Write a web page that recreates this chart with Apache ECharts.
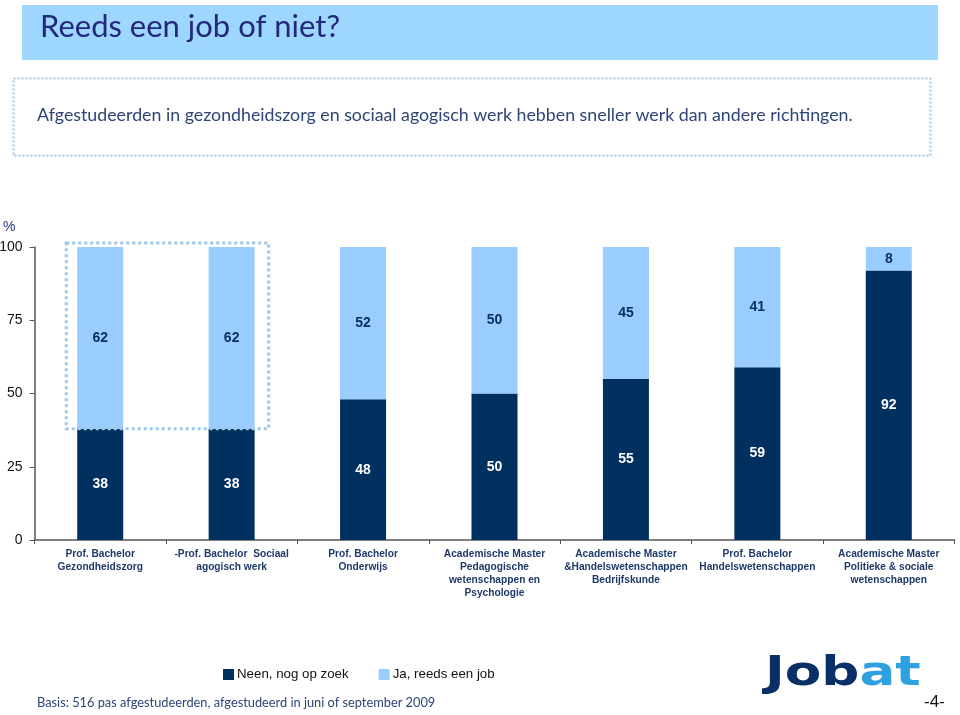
<!DOCTYPE html>
<html><head><meta charset="utf-8">
<script src="https://cdn.jsdelivr.net/npm/echarts@6/dist/echarts.min.js"></script>
<style>html,body{margin:0;padding:0;background:#fff}#c{width:960px;height:715px}</style>
</head><body><div id="c"></div>
<script>
const categories = [
  "Prof. Bachelor\nGezondheidszorg",
  "-Prof. Bachelor  Sociaal\nagogisch werk",
  "Prof. Bachelor\nOnderwijs",
  "Academische Master\nPedagogische\nwetenschappen en\nPsychologie",
  "Academische Master\n&Handelswetenschappen\nBedrijfskunde",
  "Prof. Bachelor\nHandelswetenschappen",
  "Academische Master\nPolitieke & sociale\nwetenschappen"
];
const neenValues = [38, 38, 48, 50, 55, 59, 92];
const jaValues = [62, 62, 52, 50, 45, 41, 8];
const yTicks = [0, 25, 50, 75, 100];
const seriesNames = ["Neen, nog op zoek", "Ja, reeds een job"];

const DARK = '#00305F', LIGHT = '#99CCFF';
const chart = echarts.init(document.getElementById('c'));
const labelFont = 'Liberation Sans, Arial, sans-serif';
chart.setOption({
  animation: false,
  grid: {left: 34.5, right: 5.5, top: 247, bottom: 175, containLabel: false, outerBoundsMode: 'none'},
  legend: {
    data: seriesNames, left: 218, top: 663, itemWidth: 11, itemHeight: 11, itemGap: 30,
    icon: 'rect',
    textStyle: {fontFamily: 'Liberation Sans, Arial', fontSize: 13.3, color: '#111', padding: [0,0,0,-2]}
  },
  xAxis: {
    type: 'category', data: categories,
    axisLine: {lineStyle: {color: '#555', width: 1.5}},
    axisTick: {show: true, alignWithLabel: false, length: 4, lineStyle: {color: '#555'}},
    axisLabel: {interval: 0, fontFamily: labelFont, fontSize: 10.2, fontWeight: 'bold', color: '#1F3A6A', lineHeight: 13, margin: 8}
  },
  yAxis: {
    type: 'value', min: 0, max: 100, interval: 25,
    splitLine: {show: false},
    axisLine: {show: true, lineStyle: {color: '#555', width: 1.5}},
    axisTick: {show: true, length: 5, lineStyle: {color: '#555'}},
    axisLabel: {fontFamily: labelFont, fontSize: 14, color: '#111', margin: 12,
      formatter: v => yTicks.includes(v) ? String(v) : ''}
  },
  series: [
    {name: seriesNames[0], type: 'bar', stack: 's', data: neenValues, barWidth: 46,
     itemStyle: {color: DARK},
     label: {show: true, position: 'inside', color: '#fff', fontFamily: labelFont, fontSize: 14, fontWeight: 'bold'}},
    {name: seriesNames[1], type: 'bar', stack: 's', data: jaValues, barWidth: 46,
     itemStyle: {color: LIGHT},
     label: {show: true, position: 'inside', color: '#0B2F66', fontFamily: labelFont, fontSize: 14, fontWeight: 'bold'}}
  ]
});

const p0 = chart.convertToPixel({seriesIndex: 0}, [0, 100]);
const p1 = chart.convertToPixel({seriesIndex: 0}, [1, neenValues[1]]);
chart.setOption({
  graphic: [
    {type: 'rect', shape: {x: 22, y: 5, width: 916, height: 55}, style: {fill: '#9DD6FF'}, silent: true},
    {type: 'text', left: 40, top: 11, style: {text: 'Reeds een job of niet?', fontFamily: 'Lato, Open Sans, sans-serif', fontSize: 31, fill: '#23287A'}},
    {type: 'rect', shape: {x: 13.5, y: 78.5, width: 917, height: 77}, style: {fill: 'none', stroke: '#9CC8EC', lineWidth: 2, lineDash: [2, 2]}},
    {type: 'text', left: 37, top: 106, style: {text: 'Afgestudeerden in gezondheidszorg en sociaal agogisch werk hebben sneller werk dan andere richtingen.', fontFamily: 'Lato, Open Sans, sans-serif', fontSize: 17.8, fill: '#2E4476'}},
    {type: 'text', left: 3, top: 220, style: {text: '%', fontFamily: labelFont, fontSize: 14, fill: '#2A3A8A'}},
    {type: 'rect', z: 20, shape: {x: p0[0] - 34, y: p0[1] - 4, width: (p1[0] + 37) - (p0[0] - 34), height: p1[1] - p0[1] + 4}, style: {fill: 'none', stroke: '#9CC8EC', lineWidth: 3, lineDash: [3, 3]}},
    {type: 'text', left: 37, top: 696, style: {text: 'Basis: 516 pas afgestudeerden, afgestudeerd in juni of september 2009', fontFamily: 'Lato, Open Sans, sans-serif', fontSize: 12.8, fill: '#2E4476'}},
    {type: 'text', x: 765, y: 655, scaleX: 1.33, style: {rich: {a: {fontFamily: 'DejaVu Sans', fontWeight: 'bold', fontSize: 40, fill: '#0A2E66'}, b: {fontFamily: 'DejaVu Sans', fontWeight: 'bold', fontSize: 40, fill: '#2FA0E0'}}, text: '{a|Job}{b|at}'}},
    {type: 'text', left: 924, top: 694, style: {text: '-4-', fontFamily: 'Liberation Sans, Arial', fontSize: 17, fill: '#111'}}
  ]
});
</script></body></html>
